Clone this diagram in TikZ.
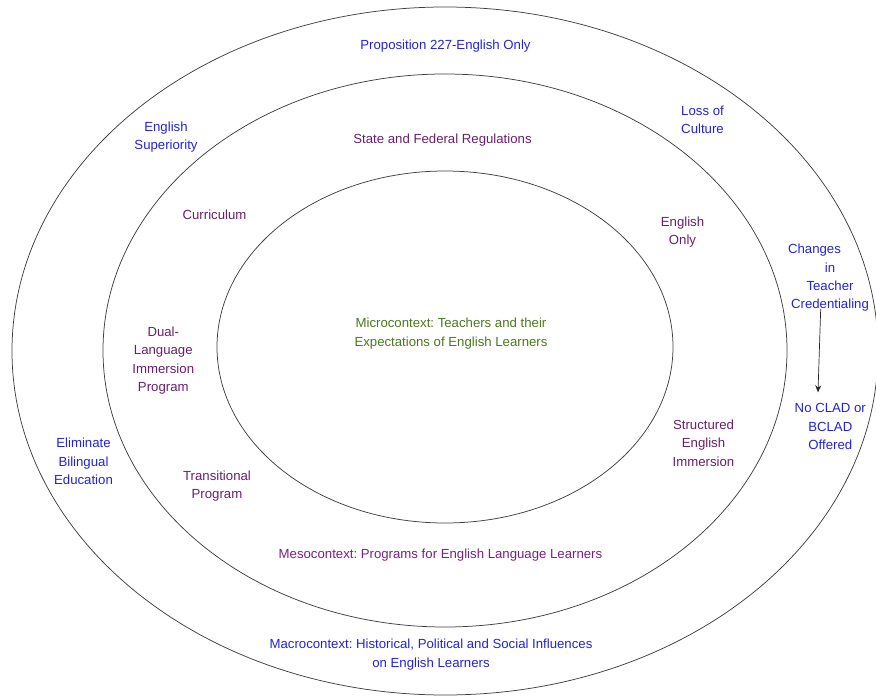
\documentclass[tikz,border=0pt]{standalone}
\usepackage{fontspec}
\setmainfont{Liberation Sans}
\frenchspacing
\usetikzlibrary{arrows.meta,calc}
\definecolor{macroblue}{HTML}{2222E0}
\definecolor{mesopurple}{HTML}{6B1E6B}
\definecolor{mesomagenta}{HTML}{7B1F88}
\definecolor{microgreen}{HTML}{4A7A1C}
\begin{document}
\begin{tikzpicture}[x=1pt,y=-1pt,
  lab/.style={align=center, font=\fontsize{13.2}{18.3}\selectfont, inner sep=1pt, yshift=-2pt},
  macro/.style={lab, text=macroblue},
  meso/.style={lab, text=mesopurple},
  ring/.style={draw=black!75, line width=0.75pt}]
\useasboundingbox (0,0) rectangle (876,696);

% three nested contexts
\draw[ring] (445,351) ellipse [x radius=433, y radius=344];
\draw[ring] (445,350.5) ellipse [x radius=342, y radius=276.5];
\draw[ring] (445,347) ellipse [x radius=228, y radius=176];

% macrocontext labels
\node[macro] (prop)    at (445.5,44)  {Proposition 227-English Only};
\node[macro] (engsup)  at (166,135)   {English\\Superiority};
\node[macro] (loss)    at (702.5,118) {Loss of\\Culture};
\node[macro] (changes) at (830,276)   {\mbox{Changes\hspace{31pt}}\\in\\Teacher\\Credentialing};
\node[macro] (noclad)  at (830.3,424.5) {No CLAD or\\BCLAD\\Offered};
\node[macro] (elim)    at (83.5,459.5) {Eliminate\\Bilingual\\Education};
\node[macro] (macroctx) at (431,652.7) {Macrocontext: Historical, Political and Social Influences\\on English Learners};

% mesocontext labels
\node[meso] (state)   at (442.5,138.3) {State and Federal Regulations};
\node[meso] (curric)  at (214.5,213)   {Curriculum};
\node[meso] (engonly) at (682.5,230)   {English\\Only};
\node[meso] (dual)    at (163.3,358.5) {Dual-\\Language\\Immersion\\Program};
\node[meso] (trans)   at (217,484)     {Transitional\\Program};
\node[meso] (struct)  at (703.5,441)   {Structured\\English\\Immersion};
\node[lab, text=mesomagenta] (mesoctx) at (440.5,553.3) {Mesocontext: Programs for English Language Learners};

% microcontext
\node[lab, text=microgreen] (micro) at (451,331.7) {Microcontext: Teachers and their\\Expectations of English Learners};

% consequence arrow
\draw[black!85, line width=0.7pt, -{Stealth[length=7pt,width=6pt]}]
  ($(changes.south)+(-9.3,-4)$) -- ($(noclad.north)+(-12.3,-10)$);
\end{tikzpicture}
\end{document}
